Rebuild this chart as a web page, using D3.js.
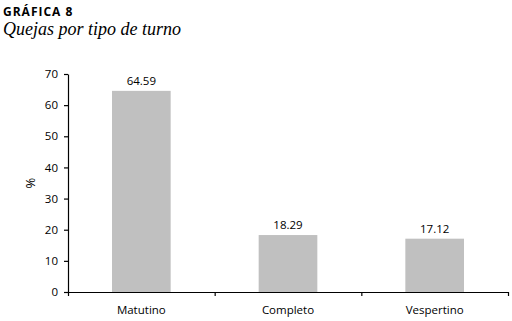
<!DOCTYPE html>
<html>
<head>
<meta charset="utf-8">
<script src="https://cdn.jsdelivr.net/npm/d3@7"></script>
<style>
body { margin: 0; background: #fff; }
svg { display: block; }
.axis path, .axis line { stroke: #000; stroke-width: 1.2; }
.axis text { font-family: "Open Sans", "DejaVu Sans", sans-serif; font-size: 11.5px; fill: #000; }
</style>
</head>
<body>
<svg id="chart"></svg>
<script>
'use strict';

var categories = ["Matutino", "Completo", "Vespertino"];
var values = [64.59, 18.29, 17.12];
var yTicks = [0, 10, 20, 30, 40, 50, 60, 70];

var WIDTH = 512;
var HEIGHT = 321;
var margin = {top: 74, right: 4, bottom: 29, left: 68};

var svg = d3.select("#chart").attr("width", WIDTH).attr("height", HEIGHT);

svg.append("text")
.attr("x", 3).attr("y", 16)
.attr("font-family", "Open Sans, DejaVu Sans, sans-serif")
.attr("font-weight", "bold")
.attr("font-size", 12)
.attr("letter-spacing", 1)
.text("GRÁFICA 8");

svg.append("text")
.attr("x", 3).attr("y", 35)
.attr("font-family", "Liberation Serif, DejaVu Serif, serif")
.attr("font-style", "italic")
.attr("font-size", 18)
.text("Quejas por tipo de turno");

var x = d3.scaleBand()
.domain(categories)
.range([margin.left, WIDTH - margin.right])
.paddingInner(0.6)
.paddingOuter(0.3);

var xAxisScale = d3.scalePoint()
.domain(d3.range(categories.length + 1))
.range([margin.left, WIDTH - margin.right]);

var y = d3.scaleLinear()
.domain([0, 70])
.range([HEIGHT - margin.bottom, margin.top]);

var g = svg.append("g");

g.selectAll("rect")
.data(values)
.enter().append("rect")
.attr("x", function(d, i){ return x(categories[i]); })
.attr("y", function(d){ return y(d); })
.attr("width", x.bandwidth())
.attr("height", function(d){ return y(0) - y(d); })
.attr("fill", "#c0c0c0");

g.selectAll("text.val")
.data(values)
.enter().append("text")
.attr("class", "val")
.attr("x", function(d, i){ return x(categories[i]) + x.bandwidth()/2; })
.attr("y", function(d){ return y(d) - 6; })
.attr("text-anchor", "middle")
.attr("font-family", "Open Sans, DejaVu Sans, sans-serif")
.attr("font-size", 11.5)
.text(function(d){ return d.toFixed(2); });

// y axis
svg.append("g")
.attr("class", "axis")
.attr("transform", "translate(" + margin.left + ",0)")
.call(d3.axisLeft(y).tickValues(yTicks).tickSize(4).tickSizeOuter(0).tickPadding(6));

// x axis: ticks between categories, labels centred
var xAxis = svg.append("g")
.attr("class", "axis")
.attr("transform", "translate(0," + y(0) + ")")
.call(d3.axisBottom(xAxisScale).tickSize(4).tickSizeOuter(0).tickFormat(""));

xAxis.selectAll("text.cat")
.data(categories)
.enter().append("text")
.attr("class", "cat")
.attr("x", function(d){ return x(d) + x.bandwidth()/2; })
.attr("y", 22)
.attr("text-anchor", "middle")
.text(function(d){ return d; });

svg.append("text")
.attr("transform", "translate(35," + ((y(0) + y(70))/2) + ") rotate(-90)")
.attr("text-anchor", "middle")
.attr("font-family", "Open Sans, DejaVu Sans, sans-serif")
.attr("font-size", 13)
.text("%");
</script>
</body>
</html>
